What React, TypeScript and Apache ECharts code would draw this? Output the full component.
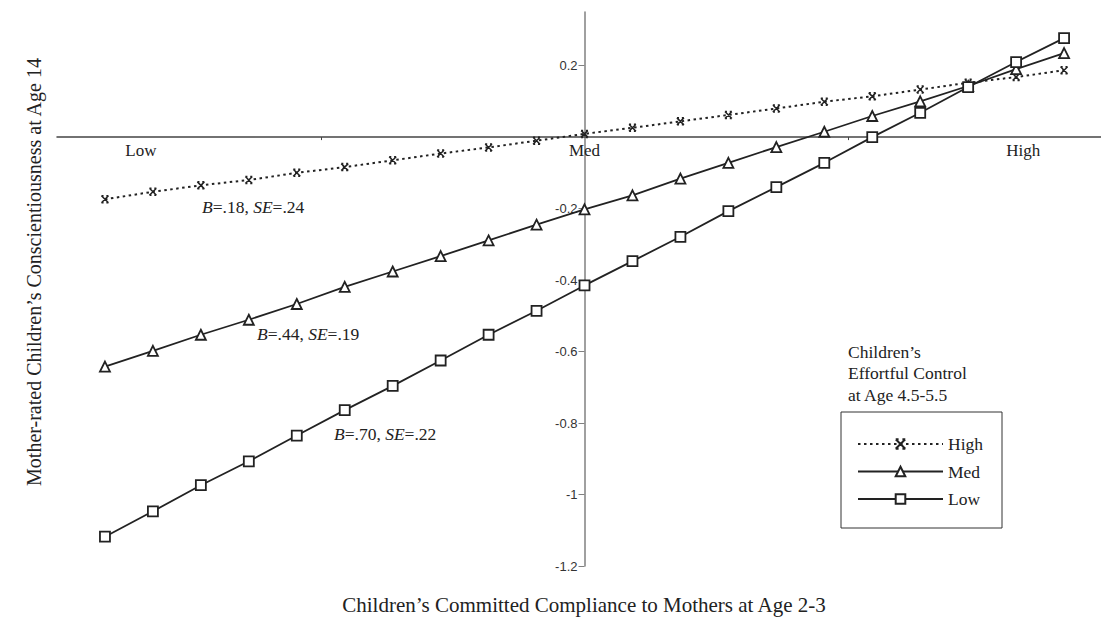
import React, { useEffect, useRef } from "react";
import * as echarts from "echarts";

// Compliance levels (positions along the x axis, Med = 0)
const xLevels = [-10, -9, -8, -7, -6, -5, -4, -3, -2, -1, 0, 1, 2, 3, 4, 5, 6, 7, 8, 9, 10];

// Children's effortful control: High / Med / Low
const highValues = [-0.174, -0.153, -0.135, -0.12, -0.1, -0.084, -0.065, -0.046, -0.029, -0.01, 0.009, 0.026, 0.044, 0.062, 0.08, 0.099, 0.114, 0.133, 0.152, 0.168, 0.187];
const medValues = [-0.642, -0.598, -0.553, -0.511, -0.467, -0.419, -0.376, -0.333, -0.289, -0.245, -0.202, -0.163, -0.116, -0.072, -0.028, 0.015, 0.059, 0.1, 0.143, 0.19, 0.235];
const lowValues = [-1.118, -1.047, -0.974, -0.907, -0.835, -0.764, -0.696, -0.625, -0.553, -0.486, -0.415, -0.347, -0.279, -0.207, -0.14, -0.072, 0.0, 0.068, 0.14, 0.21, 0.277];

const seriesNames = ["High", "Med", "Low"];
const levelLabels = ["Low", "Med", "High"];
const levelLabelPositions = [-9.25, 0, 9.15];
const xMinorTicks = [-5.5, 5.5];
const yTickValues = [-1.2, -1, -0.8, -0.6, -0.4, -0.2, 0.2];

const annotations = ["{i|B}=.18, {i|SE}=.24", "{i|B}=.44, {i|SE}=.19", "{i|B}=.70, {i|SE}=.22"];
const legendTitle = "Children’s\nEffortful Control\nat Age 4.5-5.5";
const xTitle = "Children’s Committed Compliance to Mothers at Age 2-3";
const yTitle = "Mother-rated Children’s Conscientiousness at Age 14";

const SERIF = "'Liberation Serif', 'Times New Roman', serif";
const SANS = "'Liberation Sans', Arial, sans-serif";
const INK = "#222";

const X_MIN = -11;
const X_MAX = 10.77;
const Y_MIN = -1.2;
const Y_MAX = 0.35;
const GRID = { left: 57, right: 0, top: 12, bottom: 53 };
const W = 1101;
const H = 619;

const highSymbol = "path://M0,0L10,10M10,0L0,10M0,0L3,0M7,0L10,0M0,10L3,10M7,10L10,10";

export default function App() {
  const ref = useRef<HTMLDivElement>(null);

  useEffect(() => {
    if (!ref.current) return;
    const chart = echarts.init(ref.current, null, { renderer: "svg" });
    const toPairs = (vals: number[]) => xLevels.map((x, i) => [x, vals[i]]);
    const rich = { i: { fontStyle: "italic", fontFamily: SERIF, fontSize: 17.5, fill: INK } };

    // Cross the axes at the origin (the axes are shifted into the grid with offsets)
    const gridW = W - GRID.left - GRID.right;
    const gridH = H - GRID.top - GRID.bottom;
    const yAxisOffset = -((0 - X_MIN) / (X_MAX - X_MIN)) * gridW;
    const xAxisOffset = -((0 - Y_MIN) / (Y_MAX - Y_MIN)) * gridH;

    chart.setOption({
      animation: false,
      backgroundColor: "#fff",
      grid: GRID,
      xAxis: {
        type: "value",
        min: X_MIN,
        max: X_MAX,
        position: "bottom",
        offset: xAxisOffset,
        axisLine: { onZero: false, lineStyle: { color: "#444", width: 1.5 } },
        axisTick: { show: true, customValues: xMinorTicks, length: 3, lineStyle: { color: "#444", width: 1 } },
        axisLabel: {
          customValues: levelLabelPositions,
          formatter: (v: number) => {
            const idx = levelLabelPositions.findIndex((p) => Math.abs(p - v) < 1e-6);
            return idx >= 0 ? levelLabels[idx] : "";
          },
          fontFamily: SERIF,
          fontSize: 17,
          color: INK,
          margin: 5,
        },
        splitLine: { show: false },
      },
      yAxis: {
        type: "value",
        min: Y_MIN,
        max: Y_MAX,
        interval: 0.2,
        position: "left",
        offset: yAxisOffset,
        axisLine: { show: true, onZero: false, lineStyle: { color: "#808080", width: 1.5 } },
        axisTick: { show: true, customValues: yTickValues, length: 6, lineStyle: { color: "#808080", width: 1 } },
        axisLabel: {
          customValues: yTickValues,
          formatter: (v: number) => String(Math.round(v * 10) / 10),
          fontFamily: SANS,
          fontSize: 13,
          color: "#333",
          margin: 7,
        },
        splitLine: { show: false },
      },
      legend: {
        data: seriesNames,
        orient: "vertical",
        left: 841,
        top: 412,
        itemWidth: 85,
        itemHeight: 12,
        itemGap: 9.5,
        padding: [23, 19, 20, 16],
        borderColor: "#333",
        borderWidth: 1,
        selectedMode: false,
        textStyle: { fontFamily: SERIF, fontSize: 17.5, color: INK },
      },
      series: [
        {
          name: seriesNames[0],
          type: "line",
          data: toPairs(highValues),
          symbol: highSymbol,
          symbolSize: 7,
          lineStyle: { color: INK, width: 2, type: [2.5, 3.5] },
          itemStyle: { color: INK, borderColor: INK, borderWidth: 1.5 },
        },
        {
          name: seriesNames[1],
          type: "line",
          data: toPairs(medValues),
          symbol: "triangle",
          symbolSize: 10,
          lineStyle: { color: INK, width: 1.8 },
          itemStyle: { color: "#fff", borderColor: INK, borderWidth: 1.8 },
        },
        {
          name: seriesNames[2],
          type: "line",
          data: toPairs(lowValues),
          symbol: "rect",
          symbolSize: 10,
          lineStyle: { color: INK, width: 1.8 },
          itemStyle: { color: "#fff", borderColor: INK, borderWidth: 1.8 },
        },
      ],
      graphic: [
        {
          type: "text",
          x: 848,
          y: 341,
          style: { text: legendTitle, font: `17.5px ${SERIF}`, lineHeight: 21.5, fill: INK },
        },
        {
          type: "text",
          x: 202,
          y: 207,
          style: { text: annotations[0], rich, font: `17.5px ${SERIF}`, fill: INK, verticalAlign: "middle" },
        },
        {
          type: "text",
          x: 257,
          y: 334,
          style: { text: annotations[1], rich, font: `17.5px ${SERIF}`, fill: INK, verticalAlign: "middle" },
        },
        {
          type: "text",
          x: 334,
          y: 434,
          style: { text: annotations[2], rich, font: `17.5px ${SERIF}`, fill: INK, verticalAlign: "middle" },
        },
        {
          type: "text",
          x: 584,
          y: 605,
          style: { text: xTitle, font: `21px ${SERIF}`, fill: INK, align: "center", verticalAlign: "middle" },
        },
        {
          type: "text",
          x: 34,
          y: 272,
          rotation: Math.PI / 2,
          style: { text: yTitle, font: `20px ${SERIF}`, fill: INK, align: "center", verticalAlign: "middle" },
        },
      ],
    });

    return () => chart.dispose();
  }, []);

  return (
    <div
      ref={ref}
      style={{ position: "fixed", left: 0, top: 0, width: W, height: H, background: "#fff" }}
    />
  );
}
